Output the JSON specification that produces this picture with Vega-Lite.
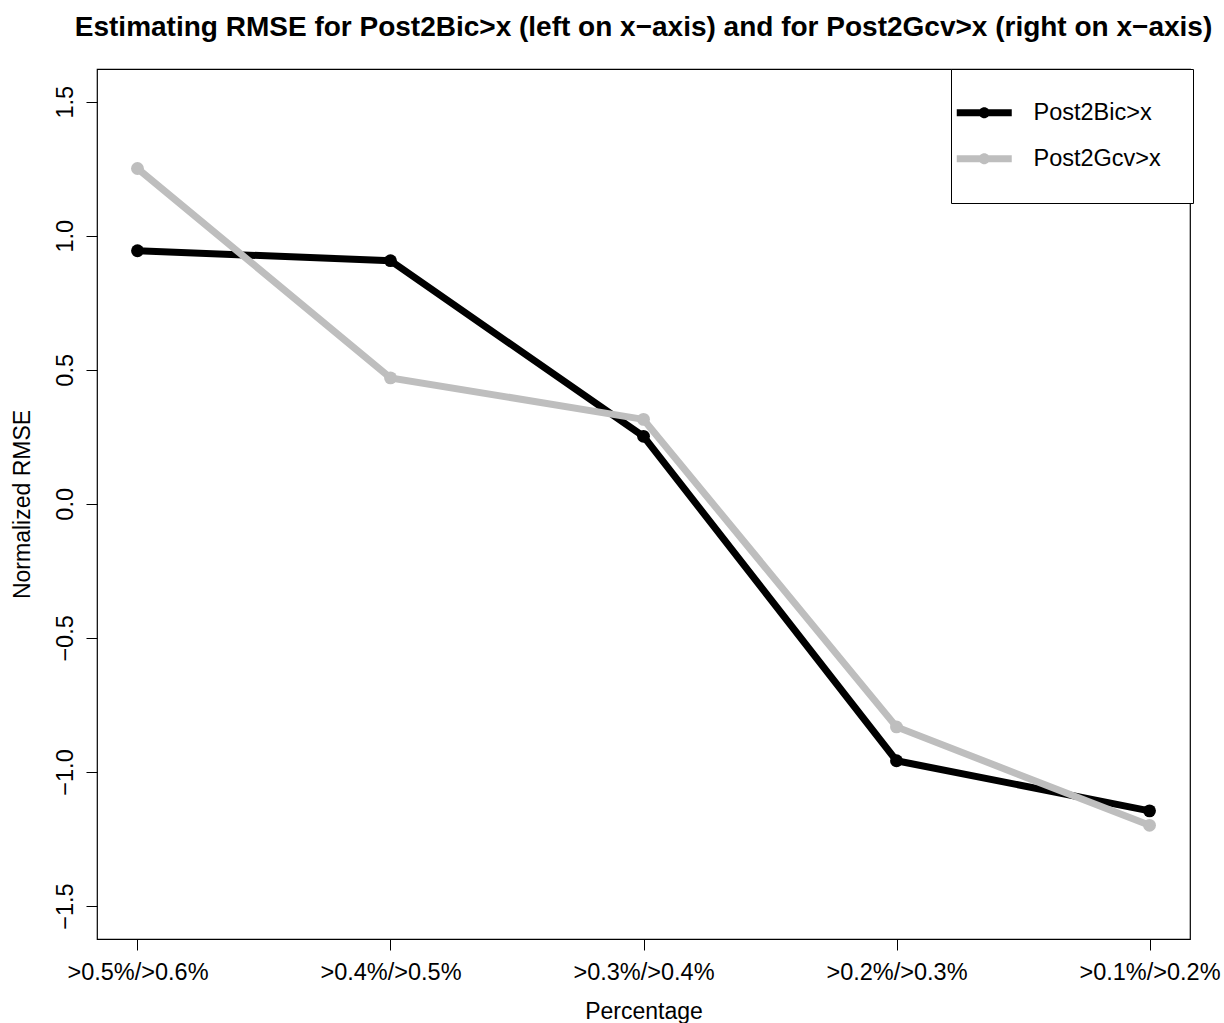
{
  "$schema": "https://vega.github.io/schema/vega-lite/v6.json",
  "width": 1093,
  "height": 870,
  "autosize": {"type": "none"},
  "padding": {"left": 97, "top": 69, "right": 34, "bottom": 84},
  "background": "white",
  "config": {
    "font": "Liberation Sans",
    "view": {"stroke": "black", "strokeWidth": 1.2},
    "axis": {
      "domain": false,
      "grid": false,
      "tickColor": "black",
      "tickSize": 11,
      "tickWidth": 1,
      "labelColor": "black",
      "labelFontSize": 23.5,
      "labelFont": "Liberation Sans",
      "titleFont": "Liberation Sans",
      "titleFontSize": 23,
      "titleFontWeight": "normal",
      "titleColor": "black"
    }
  },
  "title": {
    "text": "Estimating RMSE for Post2Bic>x (left on x−axis) and for Post2Gcv>x (right on x−axis)",
    "font": "Liberation Sans",
    "fontSize": 28,
    "fontWeight": "bold",
    "color": "black",
    "anchor": "middle",
    "offset": 27
  },
  "data": {
    "values": [
      {"Percentage": ">0.5%/>0.6%", "RMSE": 0.944, "series": "Post2Bic>x"},
      {"Percentage": ">0.4%/>0.5%", "RMSE": 0.907, "series": "Post2Bic>x"},
      {"Percentage": ">0.3%/>0.4%", "RMSE": 0.252, "series": "Post2Bic>x"},
      {"Percentage": ">0.2%/>0.3%", "RMSE": -0.958, "series": "Post2Bic>x"},
      {"Percentage": ">0.1%/>0.2%", "RMSE": -1.145, "series": "Post2Bic>x"},
      {"Percentage": ">0.5%/>0.6%", "RMSE": 1.251, "series": "Post2Gcv>x"},
      {"Percentage": ">0.4%/>0.5%", "RMSE": 0.470, "series": "Post2Gcv>x"},
      {"Percentage": ">0.3%/>0.4%", "RMSE": 0.315, "series": "Post2Gcv>x"},
      {"Percentage": ">0.2%/>0.3%", "RMSE": -0.832, "series": "Post2Gcv>x"},
      {"Percentage": ">0.1%/>0.2%", "RMSE": -1.199, "series": "Post2Gcv>x"}
    ]
  },
  "encoding": {
    "x": {
      "field": "Percentage",
      "type": "ordinal",
      "sort": null,
      "scale": {"type": "point", "padding": 0.16},
      "axis": {"labelAngle": 0, "labelPadding": 10, "titlePadding": 17, "title": "Percentage"}
    },
    "y": {
      "field": "RMSE",
      "type": "quantitative",
      "scale": {"domain": [-1.623, 1.622], "nice": false, "zero": false},
      "axis": {
        "values": [-1.5, -1, -0.5, 0, 0.5, 1, 1.5],
        "format": ".1f",
        "labelAngle": -90,
        "labelAlign": "center",
        "labelBaseline": "alphabetic",
        "labelPadding": 14,
        "titlePadding": 19,
        "title": "Normalized RMSE"
      }
    },
    "color": {
      "field": "series",
      "type": "nominal",
      "scale": {"domain": ["Post2Bic>x", "Post2Gcv>x"], "range": ["#000000", "#BEBEBE"]},
      "legend": {
        "title": null,
        "orient": "none",
        "legendX": 854,
        "legendY": 0,
        "padding": 32,
        "strokeColor": "black",
        "fillColor": "white",
        "cornerRadius": 0,
        "symbolType": "M -2.75 -0.35 L 2.75 -0.35 L 2.75 0.35 L -2.75 0.35 Z M 0.55 0 A 0.55 0.55 0 1 1 -0.55 0 A 0.55 0.55 0 1 1 0.55 0 Z",
        "symbolSize": 400,
        "symbolStrokeWidth": 0,
        "symbolOffset": -10.5,
        "labelOffset": 37.5,
        "labelFontSize": 23.5,
        "labelColor": "black",
        "labelFont": "Liberation Sans",
        "rowPadding": 21,
        "encode": {
          "symbols": {"update": {"fill": {"field": "value", "scale": "color"}, "opacity": {"value": 1}}}
        }
      }
    }
  },
  "layer": [
    {"transform": [{"filter": "datum.series === 'Post2Bic>x'"}], "mark": {"type": "line", "strokeWidth": 7, "strokeCap": "butt"}},
    {"transform": [{"filter": "datum.series === 'Post2Bic>x'"}], "mark": {"type": "point", "filled": true, "size": 165, "opacity": 1}},
    {"transform": [{"filter": "datum.series === 'Post2Gcv>x'"}], "mark": {"type": "line", "strokeWidth": 7, "strokeCap": "butt"}},
    {"transform": [{"filter": "datum.series === 'Post2Gcv>x'"}], "mark": {"type": "point", "filled": true, "size": 165, "opacity": 1}}
  ]
}
